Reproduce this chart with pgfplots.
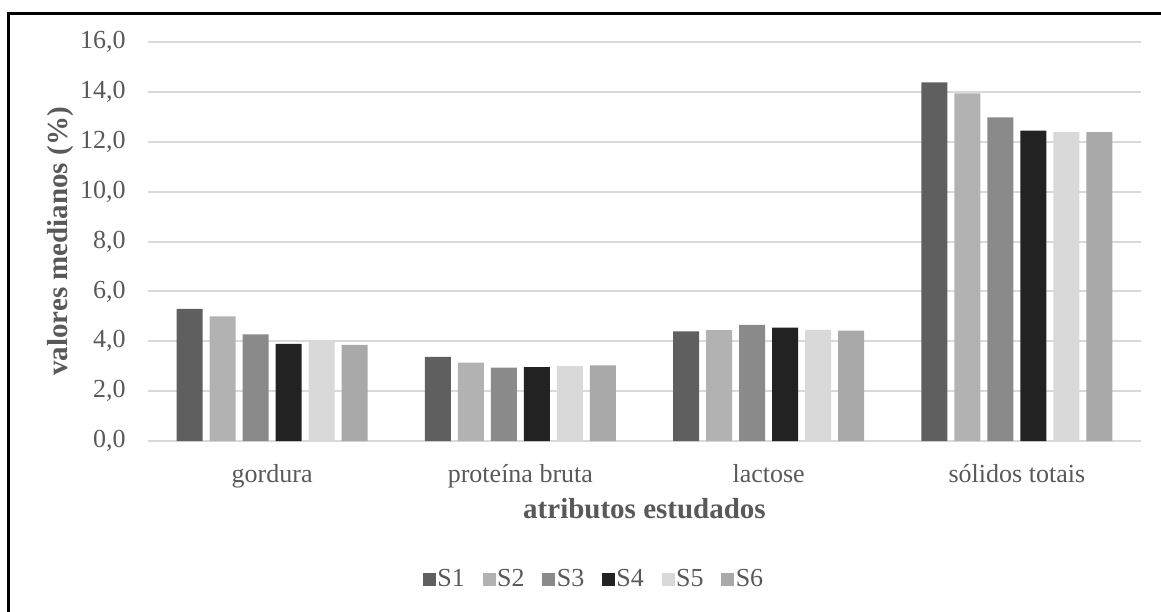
\documentclass[border=0pt]{standalone}
\usepackage{fontspec}
\setmainfont{Liberation Serif}
\usepackage{pgfplots}
\pgfplotsset{compat=1.18}

\definecolor{txt}{HTML}{595959}
\definecolor{gridc}{HTML}{D9D9D9}
\definecolor{cA}{HTML}{5F5F5F}
\definecolor{cB}{HTML}{B2B2B2}
\definecolor{cC}{HTML}{8A8A8A}
\definecolor{cD}{HTML}{222222}
\definecolor{cE}{HTML}{D9D9D9}
\definecolor{cF}{HTML}{A9A9A9}

\begin{document}
\begin{tikzpicture}
% canvas 1161x612 px, 1px = 0.5bp
\useasboundingbox (0,0) rectangle (580.5bp,-306bp);
\draw[line width=1.5bp,black] (4.25bp,-306bp) -- (4.25bp,-6.75bp) -- (580.5bp,-6.75bp);

\begin{axis}[
    at={(74bp,-220.5bp)}, anchor=south west,
    scale only axis,
    width=496.5bp, height=199.5bp,
    xmin=-0.5, xmax=3.5,
    ymin=0, ymax=16,
    ybar=3.5bp, bar width=13bp,
    xtick=data,
    xticklabels={gordura, proteína bruta, lactose, sólidos totais},
    ytick={0,2,...,16},
    major tick length=0pt,
    tick style={draw=none},
    axis line style={draw=none},
    ymajorgrids=true,
    grid style={color=gridc, line width=1bp},
    /pgf/number format/.cd, fixed, fixed zerofill, precision=1, use comma, assume math mode=true,
    /pgfplots/.cd,
    ticklabel style={font=\fontsize{13bp}{15bp}\selectfont, text=txt},
    yticklabel style={inner sep=0pt, xshift=-11bp},
    xticklabel style={anchor=base, inner sep=0pt, yshift=-20.5bp},
    xlabel={atributos estudados},
    ylabel={valores medianos (\%)},
    label style={font=\fontsize{14.5bp}{17bp}\selectfont\bfseries, text=txt},
    xlabel style={at={(axis description cs:0.5,-0.193)}, anchor=base},
    ylabel style={at={(axis description cs:-0.0806,0.5)}, anchor=base},
    legend style={
        at={(axis description cs:0.449,-0.348)}, anchor=center,
        draw=none, fill=none,
        font=\fontsize{13bp}{15bp}\selectfont, text=txt,
        legend columns=6,
        nodes={inner xsep=0.8bp},
        /tikz/every even column/.append style={column sep=8bp},
    },
    legend image code/.code={\fill[#1] (0bp,-3.25bp) rectangle (6.5bp,3.25bp);},
]
\addplot[fill=cA, draw=none] coordinates {(0,5.30) (1,3.37) (2,4.40) (3,14.38)};
\addplot[fill=cB, draw=none] coordinates {(0,5.00) (1,3.14) (2,4.45) (3,13.94)};
\addplot[fill=cC, draw=none] coordinates {(0,4.28) (1,2.94) (2,4.66) (3,12.98)};
\addplot[fill=cD, draw=none] coordinates {(0,3.90) (1,2.96) (2,4.55) (3,12.45)};
\addplot[fill=cE, draw=none] coordinates {(0,4.00) (1,3.00) (2,4.46) (3,12.39)};
\addplot[fill=cF, draw=none] coordinates {(0,3.85) (1,3.03) (2,4.43) (3,12.39)};
\legend{S1, S2, S3, S4, S5, S6}
\end{axis}
\end{tikzpicture}
\end{document}
